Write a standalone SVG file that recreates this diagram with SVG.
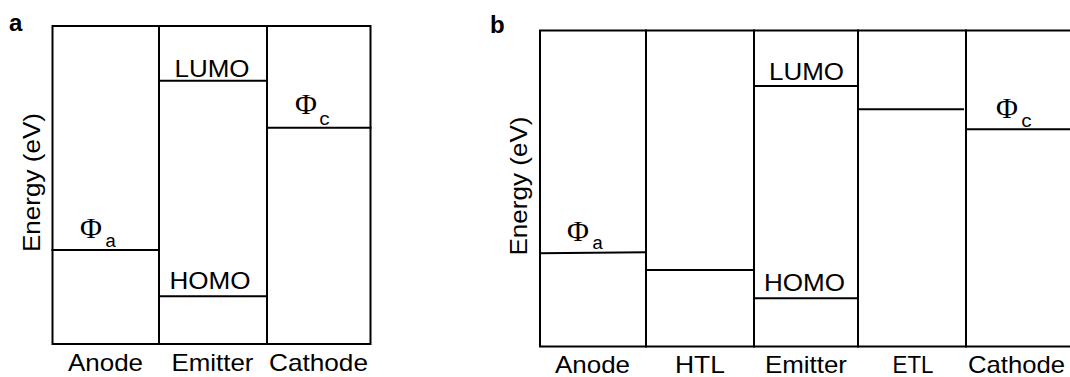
<svg xmlns="http://www.w3.org/2000/svg" width="1070" height="377" viewBox="0 0 1070 377">
<style>
.ln{stroke:#000;stroke-width:2;fill:none;stroke-linecap:square}
.lbl{font-family:"Liberation Sans",Arial,sans-serif;font-size:24px;fill:#000;text-anchor:middle}
.pl{font-family:"Liberation Sans",Arial,sans-serif;font-size:24px;font-weight:bold;fill:#000}
.phi{font-family:"Liberation Serif","Times New Roman",serif;font-size:30px;fill:#000}
.sub{font-family:"Liberation Mono","Courier New",monospace;font-size:19px;fill:#000}
</style>
<rect width="1070" height="377" fill="#fff"/>
<g id="panel-a">
  <text class="pl" x="9" y="31">a</text>
  <text class="lbl" transform="translate(40,182.5) rotate(-90)" textLength="139" lengthAdjust="spacingAndGlyphs">Energy (eV)</text>
  <g id="a-frame">
    <polyline class="ln" points="52.5,26 370.5,26 370.5,344 52.5,344 52.5,26"/>
    <line class="ln" x1="159" y1="26" x2="159" y2="344"/>
    <line class="ln" x1="267" y1="26" x2="267" y2="344"/>
  </g>
  <g id="a-anode">
    <line class="ln" x1="52.5" y1="250" x2="159" y2="250"/>
    <text class="phi" x="80" y="238">Φ</text><text class="sub" x="105" y="246.5">a</text>
    <text class="lbl" x="105.5" y="371" textLength="75" lengthAdjust="spacingAndGlyphs">Anode</text>
  </g>
  <g id="a-emitter">
    <line class="ln" x1="159" y1="80.7" x2="267" y2="80.7"/>
    <line class="ln" x1="159" y1="296.3" x2="267" y2="296.3"/>
    <text class="lbl" x="212" y="76.5" textLength="75" lengthAdjust="spacingAndGlyphs">LUMO</text>
    <text class="lbl" x="210" y="289" textLength="81" lengthAdjust="spacingAndGlyphs">HOMO</text>
    <text class="lbl" x="212.5" y="371" textLength="82" lengthAdjust="spacingAndGlyphs">Emitter</text>
  </g>
  <g id="a-cathode">
    <line class="ln" x1="267" y1="127.7" x2="370.5" y2="127.7"/>
    <text class="phi" x="295" y="114">Φ</text><text class="sub" x="319" y="125">c</text>
    <text class="lbl" x="318.5" y="371" textLength="99" lengthAdjust="spacingAndGlyphs">Cathode</text>
  </g>
</g>
<g id="panel-b">
  <text class="pl" x="490" y="33">b</text>
  <text class="lbl" transform="translate(527,186) rotate(-90)" textLength="139" lengthAdjust="spacingAndGlyphs">Energy (eV)</text>
  <g id="b-frame">
    <polyline class="ln" points="1071,30.5 540,30.5 540,346.5 1071,346.5"/>
    <line class="ln" x1="646" y1="30.5" x2="646" y2="346.5"/>
    <line class="ln" x1="754" y1="30.5" x2="754" y2="346.5"/>
    <line class="ln" x1="858" y1="30.5" x2="858" y2="346.5"/>
    <line class="ln" x1="966" y1="30.5" x2="966" y2="346.5"/>
  </g>
  <g id="b-anode">
    <line class="ln" x1="540" y1="253.3" x2="646" y2="252.2"/>
    <text class="phi" x="567" y="241">Φ</text><text class="sub" x="592" y="249.3">a</text>
    <text class="lbl" x="592.5" y="373" textLength="75" lengthAdjust="spacingAndGlyphs">Anode</text>
  </g>
  <g id="b-htl">
    <line class="ln" x1="646" y1="270" x2="754" y2="270"/>
    <text class="lbl" x="700" y="373" textLength="50" lengthAdjust="spacingAndGlyphs">HTL</text>
  </g>
  <g id="b-emitter">
    <line class="ln" x1="754" y1="86" x2="858" y2="86"/>
    <line class="ln" x1="754" y1="298.3" x2="858" y2="298.3"/>
    <text class="lbl" x="806.5" y="80" textLength="75" lengthAdjust="spacingAndGlyphs">LUMO</text>
    <text class="lbl" x="804.5" y="291" textLength="81" lengthAdjust="spacingAndGlyphs">HOMO</text>
    <text class="lbl" x="806" y="373" textLength="82" lengthAdjust="spacingAndGlyphs">Emitter</text>
  </g>
  <g id="b-etl">
    <line class="ln" x1="858" y1="109.3" x2="963" y2="109.3"/>
    <text class="lbl" x="913" y="373" textLength="41" lengthAdjust="spacingAndGlyphs">ETL</text>
  </g>
  <g id="b-cathode">
    <line class="ln" x1="966" y1="129.3" x2="1071" y2="129.3"/>
    <text class="phi" x="996" y="118">Φ</text><text class="sub" x="1021" y="126.7">c</text>
    <text class="lbl" x="1016.5" y="373" textLength="97" lengthAdjust="spacingAndGlyphs">Cathode</text>
  </g>
</g>
</svg>
